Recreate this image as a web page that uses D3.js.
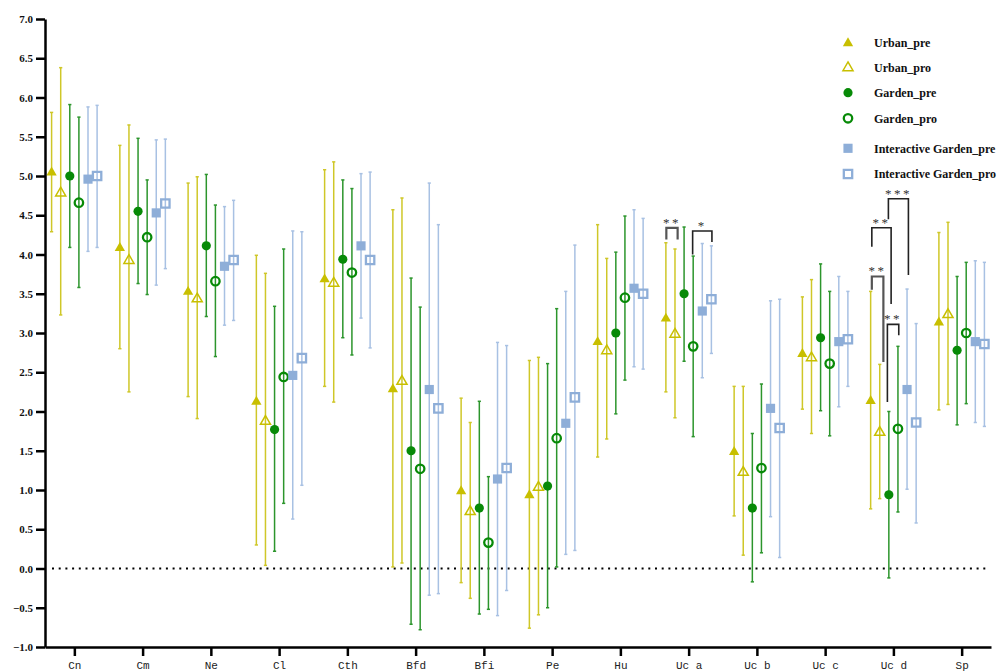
<!DOCTYPE html>
<html>
<head>
<meta charset="utf-8">
<script src="https://cdn.jsdelivr.net/npm/d3@7"></script>
<style>
  html, body { margin: 0; padding: 0; background: #fff; }
  svg { display: block; }
</style>
</head>
<body>
<svg id="chart" width="1000" height="671"></svg>
<script>
// Categories along the x axis
const categories = ["Cn", "Cm", "Ne", "Cl", "Cth", "Bfd", "Bfi", "Pe", "Hu", "Uc a", "Uc b", "Uc c", "Uc d", "Sp"];

// Y axis ticks
const yTicks = [-1.0, -0.5, 0.0, 0.5, 1.0, 1.5, 2.0, 2.5, 3.0, 3.5, 4.0, 4.5, 5.0, 5.5, 6.0, 6.5, 7.0];

// Series names
const seriesNames = ["Urban_pre", "Urban_pro", "Garden_pre", "Garden_pro", "Interactive Garden_pre", "Interactive Garden_pro"];

// Means, upper and lower whisker ends for each series
const urbanPreMean  = [5.05, 4.09, 3.53, 2.13, 3.69, 2.29, 0.99, 0.94, 2.89, 3.19, 1.49, 2.74, 2.14, 3.14];
const urbanPreHigh  = [5.81, 5.39, 4.91, 3.99, 5.08, 4.57, 2.17, 2.65, 4.38, 4.15, 2.32, 3.46, 3.53, 4.28];
const urbanPreLow   = [4.29, 2.80, 2.19, 0.30, 2.32, 0.02, -0.18, -0.76, 1.42, 2.25, 0.67, 2.03, 0.76, 2.02];

const urbanProMean  = [4.79, 3.93, 3.44, 1.88, 3.64, 2.39, 0.73, 1.04, 2.78, 2.99, 1.23, 2.69, 1.74, 3.24];
const urbanProHigh  = [6.38, 5.65, 4.99, 3.76, 5.18, 4.72, 1.86, 2.69, 3.95, 4.07, 2.32, 3.68, 2.60, 4.41];
const urbanProLow   = [3.23, 2.25, 1.91, 0.04, 2.12, 0.07, -0.38, -0.59, 1.65, 1.92, 0.17, 1.72, 0.89, 2.09];

const gardenPreMean = [5.00, 4.55, 4.11, 1.77, 3.94, 1.50, 0.77, 1.05, 3.00, 3.50, 0.77, 2.94, 0.94, 2.78];
const gardenPreHigh = [5.91, 5.48, 5.02, 3.34, 4.95, 3.70, 2.13, 2.61, 4.03, 4.35, 1.72, 3.88, 2.00, 3.72];
const gardenPreLow  = [4.09, 3.63, 3.21, 0.22, 2.94, -0.71, -0.58, -0.50, 1.97, 2.64, -0.17, 2.01, -0.12, 1.83];

const gardenProMean = [4.66, 4.22, 3.66, 2.44, 3.77, 1.27, 0.33, 1.66, 3.45, 2.83, 1.28, 2.61, 1.78, 3.00];
const gardenProHigh = [5.75, 4.95, 4.63, 4.07, 4.84, 3.33, 1.17, 3.31, 4.49, 3.98, 2.35, 3.53, 2.83, 3.90];
const gardenProLow  = [3.58, 3.49, 2.70, 0.83, 2.72, -0.78, -0.52, 0.02, 2.40, 1.68, 0.20, 1.69, 0.72, 2.10];

const igPreMean     = [4.96, 4.53, 3.85, 2.46, 4.11, 2.28, 1.14, 1.85, 3.57, 3.28, 2.04, 2.89, 2.28, 2.89];
const igPreHigh     = [5.88, 5.46, 4.61, 4.30, 5.03, 4.91, 2.88, 3.53, 4.57, 4.14, 3.41, 3.72, 3.56, 3.92];
const igPreLow      = [4.04, 3.61, 3.10, 0.63, 3.19, -0.34, -0.60, 0.18, 2.57, 2.43, 0.66, 2.06, 1.01, 1.86];

const igProMean     = [5.00, 4.65, 3.93, 2.68, 3.93, 2.04, 1.28, 2.18, 3.50, 3.43, 1.79, 2.92, 1.86, 2.86];
const igProHigh     = [5.90, 5.47, 4.69, 4.29, 5.05, 4.38, 2.84, 4.12, 4.46, 4.11, 3.43, 3.53, 3.12, 3.90];
const igProLow      = [4.09, 3.82, 3.16, 1.06, 2.81, -0.32, -0.28, 0.23, 2.54, 2.74, 0.14, 2.32, 0.58, 1.81];

// Significance brackets: category, slot from/to (series slot), top value, leg ends, label
const brackets = [
  { cat: "Uc a", from: 0.05, to: 1.29, top: 4.34, leftEnd: 4.19, rightEnd: 4.19, label: "**", tone: "grey" },
  { cat: "Uc a", from: 2.94, to: 5.06, top: 4.30, leftEnd: 4.00, rightEnd: 4.16, label: "*",  tone: "black" },
  { cat: "Uc d", from: 0.13, to: 1.40, top: 3.72, leftEnd: 3.55, rightEnd: 2.63, label: "**", tone: "grey" },
  { cat: "Uc d", from: 0.13, to: 2.25, top: 4.34, leftEnd: 4.10, rightEnd: 3.37, label: "**", tone: "black" },
  { cat: "Uc d", from: 1.95, to: 4.15, top: 4.71, leftEnd: 4.45, rightEnd: 3.74, label: "***", tone: "black" },
  { cat: "Uc d", from: 1.84, to: 3.09, top: 3.11, leftEnd: 2.12, rightEnd: 2.97, label: "**", tone: "black" }
];

const series = [
  { name: seriesNames[0], mean: urbanPreMean,  high: urbanPreHigh,  low: urbanPreLow,  shape: "triangle", filled: true,  color: "#c8bf00", bar: "#cfc728" },
  { name: seriesNames[1], mean: urbanProMean,  high: urbanProHigh,  low: urbanProLow,  shape: "triangle", filled: false, color: "#c8bf00", bar: "#cfc728" },
  { name: seriesNames[2], mean: gardenPreMean, high: gardenPreHigh, low: gardenPreLow, shape: "circle",   filled: true,  color: "#078a07", bar: "#2c952c" },
  { name: seriesNames[3], mean: gardenProMean, high: gardenProHigh, low: gardenProLow, shape: "circle",   filled: false, color: "#078a07", bar: "#2c952c" },
  { name: seriesNames[4], mean: igPreMean,     high: igPreHigh,     low: igPreLow,     shape: "square",   filled: true,  color: "#8eaed8", bar: "#a8c1e3" },
  { name: seriesNames[5], mean: igProMean,     high: igProHigh,     low: igProLow,     shape: "square",   filled: false, color: "#8eaed8", bar: "#a8c1e3" }
];

const svg = d3.select("#chart");

const x = d3.scalePoint().domain(categories).range([45, 991]).padding(0.43);
const y = d3.scaleLinear().domain([-1, 7]).range([647, 19]);
const slotW = 9.1;
const slotX = (cat, slot) => x(cat) + (slot - 2.5) * slotW;

// Marker drawing
function symbolFor(s) {
  if (s.shape === "triangle") return d3.symbol(d3.symbolTriangle, s.filled ? 46 : 44)();
  if (s.shape === "circle")   return d3.symbol(d3.symbolCircle, s.filled ? 66 : 56)();
  return d3.symbol(d3.symbolSquare, s.filled ? 84 : 70)();
}
function styleMarker(sel, s) {
  const sw = s.shape === "triangle" ? 1.5 : 2.3;
  sel.attr("d", symbolFor(s))
     .attr("fill", s.filled ? s.color : "none")
     .attr("stroke", s.filled ? "none" : s.color)
     .attr("stroke-width", s.filled ? 0 : sw);
}

// Zero reference line
svg.append("line")
  .attr("x1", 52).attr("x2", 990)
  .attr("y1", y(0)).attr("y2", y(0))
  .attr("stroke", "#000").attr("stroke-width", 2)
  .attr("stroke-dasharray", "2,4.7");

// Error bars and markers
const plot = svg.append("g");
series.forEach((s, si) => {
  const g = plot.append("g");
  categories.forEach((cat, ci) => {
    const cx = slotX(cat, si);
    g.append("line")
      .attr("x1", cx).attr("x2", cx)
      .attr("y1", y(s.high[ci])).attr("y2", y(s.low[ci]))
      .attr("stroke", s.bar).attr("stroke-width", 1.5);
    [s.high[ci], s.low[ci]].forEach(v => {
      g.append("line")
        .attr("x1", cx - 1.6).attr("x2", cx + 1.6)
        .attr("y1", y(v)).attr("y2", y(v))
        .attr("stroke", s.bar).attr("stroke-width", 1.5);
    });
  });
});
series.forEach((s, si) => {
  const g = plot.append("g");
  categories.forEach((cat, ci) => {
    g.append("path")
      .attr("transform", `translate(${slotX(cat, si)},${y(s.mean[ci]) + (s.shape === "triangle" ? 0.5 : 0)})`)
      .call(styleMarker, s);
  });
});

// Significance brackets
const sig = svg.append("g");
brackets.forEach(b => {
  const x1 = slotX(b.cat, b.from), x2 = slotX(b.cat, b.to);
  const col = b.tone === "grey" ? "#555" : "#222";
  sig.append("path")
    .attr("d", `M${x1},${y(b.leftEnd)}V${y(b.top)}H${x2}V${y(b.rightEnd)}`)
    .attr("fill", "none")
    .attr("stroke", col)
    .attr("stroke-width", b.tone === "grey" ? 2.2 : 1.6);
  sig.append("text")
    .attr("x", (x1 + x2) / 2)
    .attr("y", y(b.top) - 1)
    .attr("text-anchor", "middle")
    .attr("font-family", "Liberation Serif, serif")
    .attr("font-size", 13)
    .attr("letter-spacing", 2.5)
    .attr("fill", "#333")
    .text(b.label);
});

// Axes
const yAxis = d3.axisLeft(y).tickValues(yTicks).tickFormat(d3.format(".1f")).tickSize(9).tickPadding(3).tickSizeOuter(0);
const gy = svg.append("g").attr("transform", "translate(45,0)").call(yAxis);
gy.select(".domain").attr("stroke-width", 2.5);
gy.selectAll(".tick line").attr("stroke-width", 2.5);
gy.selectAll(".tick text")
  .attr("font-family", "Liberation Serif, serif")
  .attr("font-weight", "bold")
  .attr("font-size", 11)
  .attr("fill", "#111");

const xAxis = d3.axisBottom(x).tickSize(9).tickPadding(5).tickSizeOuter(0);
const gx = svg.append("g").attr("transform", "translate(0,647)").call(xAxis);
gx.select(".domain").attr("stroke-width", 2.5);
gx.selectAll(".tick line").attr("stroke-width", 2.5);
gx.selectAll(".tick text")
  .attr("font-family", "Liberation Mono, monospace")
  .attr("font-size", 11)
  .attr("fill", "#222");

// Legend
const legendRows = [42.7, 67.3, 92.7, 118.3, 148.3, 174];
const legend = svg.append("g");
series.forEach((s, i) => {
  legend.append("path")
    .attr("transform", `translate(848,${legendRows[i] + (s.shape === "triangle" ? 0.5 : 0)})`)
    .call(styleMarker, s);
  legend.append("text")
    .attr("x", 874)
    .attr("y", legendRows[i])
    .attr("dy", "0.35em")
    .attr("font-family", "Liberation Serif, serif")
    .attr("font-weight", "bold")
    .attr("font-size", 12)
    .attr("fill", "#111")
    .text(s.name);
});
</script>
</body>
</html>
